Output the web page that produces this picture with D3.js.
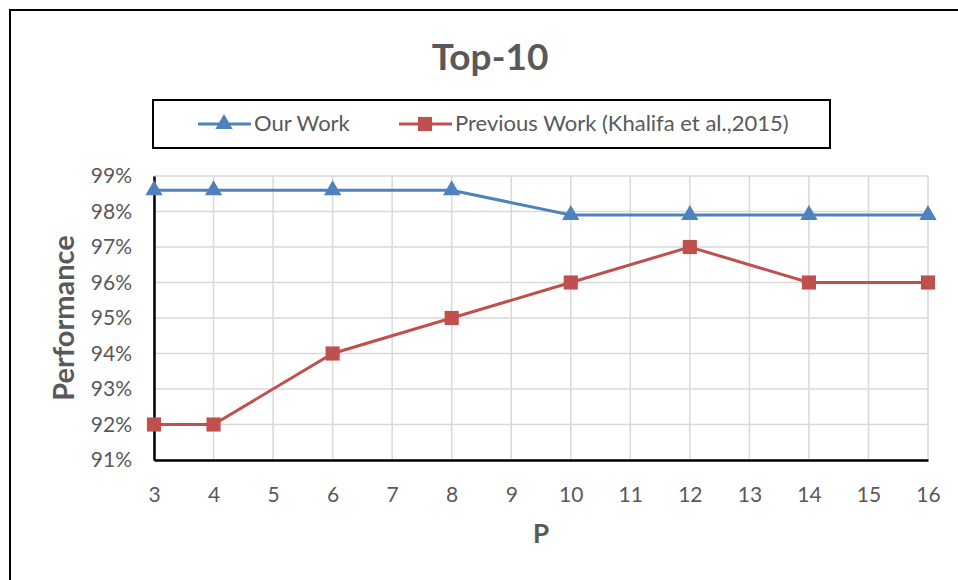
<!DOCTYPE html>
<html>
<head>
<meta charset="utf-8">
<script src="https://cdn.jsdelivr.net/npm/d3@7"></script>
<style>
  body { margin: 0; background: #fff; }
  text { font-family: Lato, "Open Sans", sans-serif; fill: #595959; }
</style>
</head>
<body>
<div id="chart"></div>
<script>
var svgWidth = 958;
var svgHeight = 580;

// data (null = no point at that P)
var pValues = ["3", "4", "5", "6", "7", "8", "9", "10", "11", "12", "13", "14", "15", "16"];
var ourWork = [98.6, 98.6, null, 98.6, null, 98.6, null, 97.9, null, 97.9, null, 97.9, null, 97.9];
var previousWork = [92, 92, null, 94, null, 95, null, 96, null, 97, null, 96, null, 96];
var yTicks = [91, 92, 93, 94, 95, 96, 97, 98, 99];
var seriesNames = ["Our Work", "Previous Work (Khalifa et al.,2015)"];

var margin = { top: 176, right: 30, bottom: 120, left: 154 };
var chartWidth = 928 - margin.left;
var chartHeight = 460 - margin.top;

var svg = d3.select("#chart")
    .append("svg")
    .attr("width", svgWidth)
    .attr("height", svgHeight);

// outer chart border (cropped at right/bottom)
svg.append("rect")
    .attr("x", 10)
    .attr("y", 10)
    .attr("width", 1000)
    .attr("height", 1000)
    .attr("fill", "none")
    .attr("stroke", "#000")
    .attr("stroke-width", 2);

svg.append("text")
    .attr("x", 490)
    .attr("y", 70)
    .attr("text-anchor", "middle")
    .style("font-size", "37px")
    .style("font-weight", "bold")
    .text("Top-10");

var chartGroup = svg.append("g")
    .attr("transform", `translate(${margin.left}, ${margin.top})`);

var xScale = d3.scalePoint()
    .domain(pValues)
    .range([0, chartWidth]);

var yScale = d3.scaleLinear()
    .domain([91, 99])
    .range([chartHeight, 0]);

// gridlines
chartGroup.selectAll("line.hgrid")
    .data(yTicks)
    .enter()
    .append("line")
    .classed("hgrid", true)
    .attr("x1", 0)
    .attr("x2", chartWidth)
    .attr("y1", d => yScale(d))
    .attr("y2", d => yScale(d))
    .attr("stroke", "#d9d9d9")
    .attr("stroke-width", 1.5);

chartGroup.selectAll("line.vgrid")
    .data(pValues)
    .enter()
    .append("line")
    .classed("vgrid", true)
    .attr("x1", d => xScale(d))
    .attr("x2", d => xScale(d))
    .attr("y1", 0)
    .attr("y2", chartHeight)
    .attr("stroke", "#d9d9d9")
    .attr("stroke-width", 1.5);

var bottomAxis = d3.axisBottom(xScale).tickSize(0).tickPadding(27);
var leftAxis = d3.axisLeft(yScale).tickValues(yTicks).tickSize(0).tickPadding(22)
    .tickFormat(d => d + "%");

var xAxisG = chartGroup.append("g")
    .attr("transform", `translate(0, ${chartHeight})`)
    .call(bottomAxis);

var yAxisG = chartGroup.append("g")
    .call(leftAxis);

[xAxisG, yAxisG].forEach(function(g) {
    g.select(".domain").attr("stroke", "#000").attr("stroke-width", 2.5);
    g.selectAll("text")
        .style("font-size", "21px")
        .style("font-family", "Lato, 'Open Sans', sans-serif")
        .attr("fill", "#595959");
});

var seriesData = [
    { name: seriesNames[0], values: ourWork, color: "#4f81bd", marker: d3.symbolTriangle },
    { name: seriesNames[1], values: previousWork, color: "#c0504d", marker: d3.symbolSquare }
];

var line = d3.line()
    .x(d => xScale(d.p))
    .y(d => yScale(d.v));

seriesData.forEach(function(s) {
    var pts = pValues.map((p, i) => ({ p: p, v: s.values[i] })).filter(d => d.v !== null);

    chartGroup.append("path")
        .datum(pts)
        .attr("d", line)
        .attr("fill", "none")
        .attr("stroke", s.color)
        .attr("stroke-width", 3);

    chartGroup.selectAll(null)
        .data(pts)
        .enter()
        .append("path")
        .attr("transform", d => `translate(${xScale(d.p)}, ${yScale(d.v)})`)
        .attr("d", d3.symbol().type(s.marker).size(s.marker === d3.symbolSquare ? 200 : 130))
        .attr("fill", s.color);
});

// axis titles
chartGroup.append("text")
    .attr("x", chartWidth / 2)
    .attr("y", chartHeight + 83)
    .attr("text-anchor", "middle")
    .style("font-size", "26px")
    .style("font-weight", "bold")
    .text("P");

chartGroup.append("text")
    .attr("transform", "rotate(-90)")
    .attr("x", -chartHeight / 2)
    .attr("y", 74 - margin.left)
    .attr("text-anchor", "middle")
    .style("font-size", "29px")
    .style("font-weight", "bold")
    .text("Performance");

// legend
var legend = svg.append("g");
legend.append("rect")
    .attr("x", 153)
    .attr("y", 100)
    .attr("width", 677)
    .attr("height", 48)
    .attr("fill", "#fff")
    .attr("stroke", "#000")
    .attr("stroke-width", 2);

var legendX = [198, 399];
seriesData.forEach(function(s, i) {
    var lx = legendX[i];
    legend.append("line")
        .attr("x1", lx)
        .attr("x2", lx + 53)
        .attr("y1", 124)
        .attr("y2", 124)
        .attr("stroke", s.color)
        .attr("stroke-width", 3);
    legend.append("path")
        .attr("transform", `translate(${lx + 26}, 124)`)
        .attr("d", d3.symbol().type(s.marker).size(s.marker === d3.symbolSquare ? 200 : 130))
        .attr("fill", s.color);
    legend.append("text")
        .attr("x", lx + 56)
        .attr("y", 131)
        .style("font-size", "22px")
        .text(s.name);
});
</script>
</body>
</html>
